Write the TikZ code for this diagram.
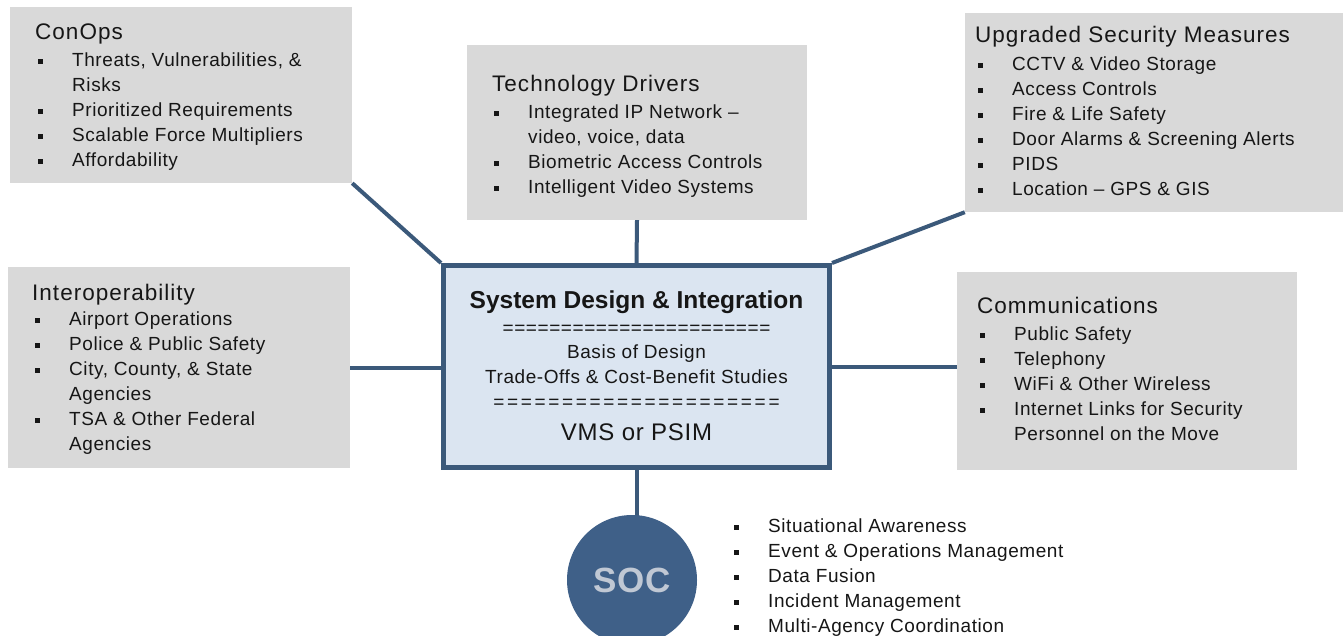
\documentclass[tikz,border=0pt]{standalone}
\usepackage{fontspec}
\setmainfont{Liberation Sans}
\newfontfamily\lsfont[LetterSpace=3]{Liberation Sans}
\newfontfamily\ttlfont[LetterSpace=4.5]{Liberation Sans}
\newfontfamily\eqfont[LetterSpace=14]{Liberation Sans}
\newfontfamily\socfont[LetterSpace=3]{Liberation Sans}
\usetikzlibrary{backgrounds}
\definecolor{boxgray}{RGB}{217,217,217}
\definecolor{linec}{RGB}{59,89,122}
\definecolor{centerfill}{RGB}{219,229,241}
\definecolor{circfill}{RGB}{63,96,136}
\definecolor{socgray}{RGB}{192,200,212}
\definecolor{txt}{RGB}{22,22,22}
\newcommand{\bitem}{\makebox[37pt][l]{\hspace{3pt}\rule[2.6pt]{5pt}{5pt}}}
\newcommand{\bcont}{\hspace*{37pt}}
\newcommand{\fstrut}{\rule{0pt}{15pt}}
\begin{document}
\begin{tikzpicture}[
  x=1pt, y=-1pt,
  graybox/.style={fill=boxgray, draw=none, inner sep=0pt, rectangle},
  ttl/.style={anchor=base west, inner sep=0pt, text=txt, font=\ttlfont\fontsize{22.5}{26}\selectfont},
  lst/.style={anchor=north west, inner sep=0pt, text=txt, align=left, font=\lsfont\fontsize{19}{25}\selectfont},
  ctxt/.style={anchor=base, inner sep=0pt, text=txt, font=\lsfont\fontsize{19}{25}\selectfont},
  conn/.style={draw=linec, line width=4pt},
]
\useasboundingbox (0,0) rectangle (1343,636);
\begin{scope}[on background layer]
\fill[white] (0,0) rectangle (1343,636);
\end{scope}
% gray boxes
\node[graybox, minimum width=342pt, minimum height=176pt] (conops) at (181,95) {};
\node[graybox, minimum width=340pt, minimum height=175pt] (tech) at (637,132.5) {};
\node[graybox, minimum width=378pt, minimum height=199pt] (upg) at (1154,112.5) {};
\node[graybox, minimum width=342pt, minimum height=201pt] (interop) at (179,367.5) {};
\node[graybox, minimum width=340pt, minimum height=198pt] (comms) at (1127,371) {};
% center box
\node[draw=linec, line width=5pt, fill=centerfill, minimum width=386pt, minimum height=202pt, inner sep=0pt] (center) at (636.5,366.5) {};
% SOC circle
\node[circle, fill=circfill, minimum size=130pt, inner sep=0pt, text=socgray, font=\socfont\fontsize{35}{35}\selectfont\bfseries] (soc) at (632,580) {SOC};
% connectors
\begin{scope}[on background layer]
\draw[conn] (conops.south east) -- (center.north west);
\draw[conn] (tech.south) -- (center.north);
\draw[conn] (upg.south west) -- (center.north east);
\draw[conn] (interop.east) -- (interop.east -| center.west);
\draw[conn] (center.east) -- (center.east -| comms.west);
\draw[conn] (center.south) -- (center.south |- soc.center);
\end{scope}
% ConOps
\node[ttl] (conopsT) at (35,40) {ConOps};
\node[lst] (conopsL) at (35,51) {\fstrut\bitem Threats, Vulnerabilities, \&\\\bcont Risks\\\bitem Prioritized Requirements\\\bitem Scalable Force Multipliers\\\bitem Affordability};
% Technology Drivers
\node[ttl] (techT) at (492,92) {Technology Drivers};
\node[lst] (techL) at (491,103) {\fstrut\bitem Integrated IP Network –\\\bcont video, voice, data\\\bitem Biometric Access Controls\\\bitem Intelligent Video Systems};
% Upgraded Security Measures
\node[ttl] (upgT) at (975,43) {Upgraded Security Measures};
\node[lst] (upgL) at (975,55) {\fstrut\bitem CCTV \& Video Storage\\\bitem Access Controls\\\bitem Fire \& Life Safety\\\bitem Door Alarms \& Screening Alerts\\\bitem PIDS\\\bitem Location – GPS \& GIS};
% Interoperability
\node[ttl] (interopT) at (32,300) {Interoperability};
\node[lst] (interopL) at (32,310) {\fstrut\bitem Airport Operations\\\bitem Police \& Public Safety\\\bitem City, County, \& State\\\bcont Agencies\\\bitem TSA \& Other Federal\\\bcont Agencies};
% Communications
\node[ttl] (commsT) at (977,313) {Communications};
\node[lst] (commsL) at (977,325) {\fstrut\bitem Public Safety\\\bitem Telephony\\\bitem WiFi \& Other Wireless\\\bitem Internet Links for Security\\\bcont Personnel on the Move};
% center texts
\node[anchor=base, inner sep=0pt, text=txt, font=\fontsize{24.5}{28}\selectfont\bfseries] (c1) at (636.5,308) {System Design \& Integration};
\node[ctxt] (c2) at (636.5,334) {=======================};
\node[ctxt] (c3) at (636.5,358) {Basis of Design};
\node[ctxt] (c4) at (636.5,383) {Trade-Offs \& Cost-Benefit Studies};
\node[anchor=base, inner sep=0pt, text=txt, font=\eqfont\fontsize{19}{25}\selectfont] (c5) at (636.5,408) {=====================};
\node[anchor=base, inner sep=0pt, text=txt, font=\lsfont\fontsize{24}{28}\selectfont] (c6) at (636.5,440) {VMS or PSIM};
% SOC list
\node[lst] (socL) at (731,517) {\fstrut\bitem Situational Awareness\\\bitem Event \& Operations Management\\\bitem Data Fusion\\\bitem Incident Management\\\bitem Multi-Agency Coordination};
\end{tikzpicture}
\end{document}
